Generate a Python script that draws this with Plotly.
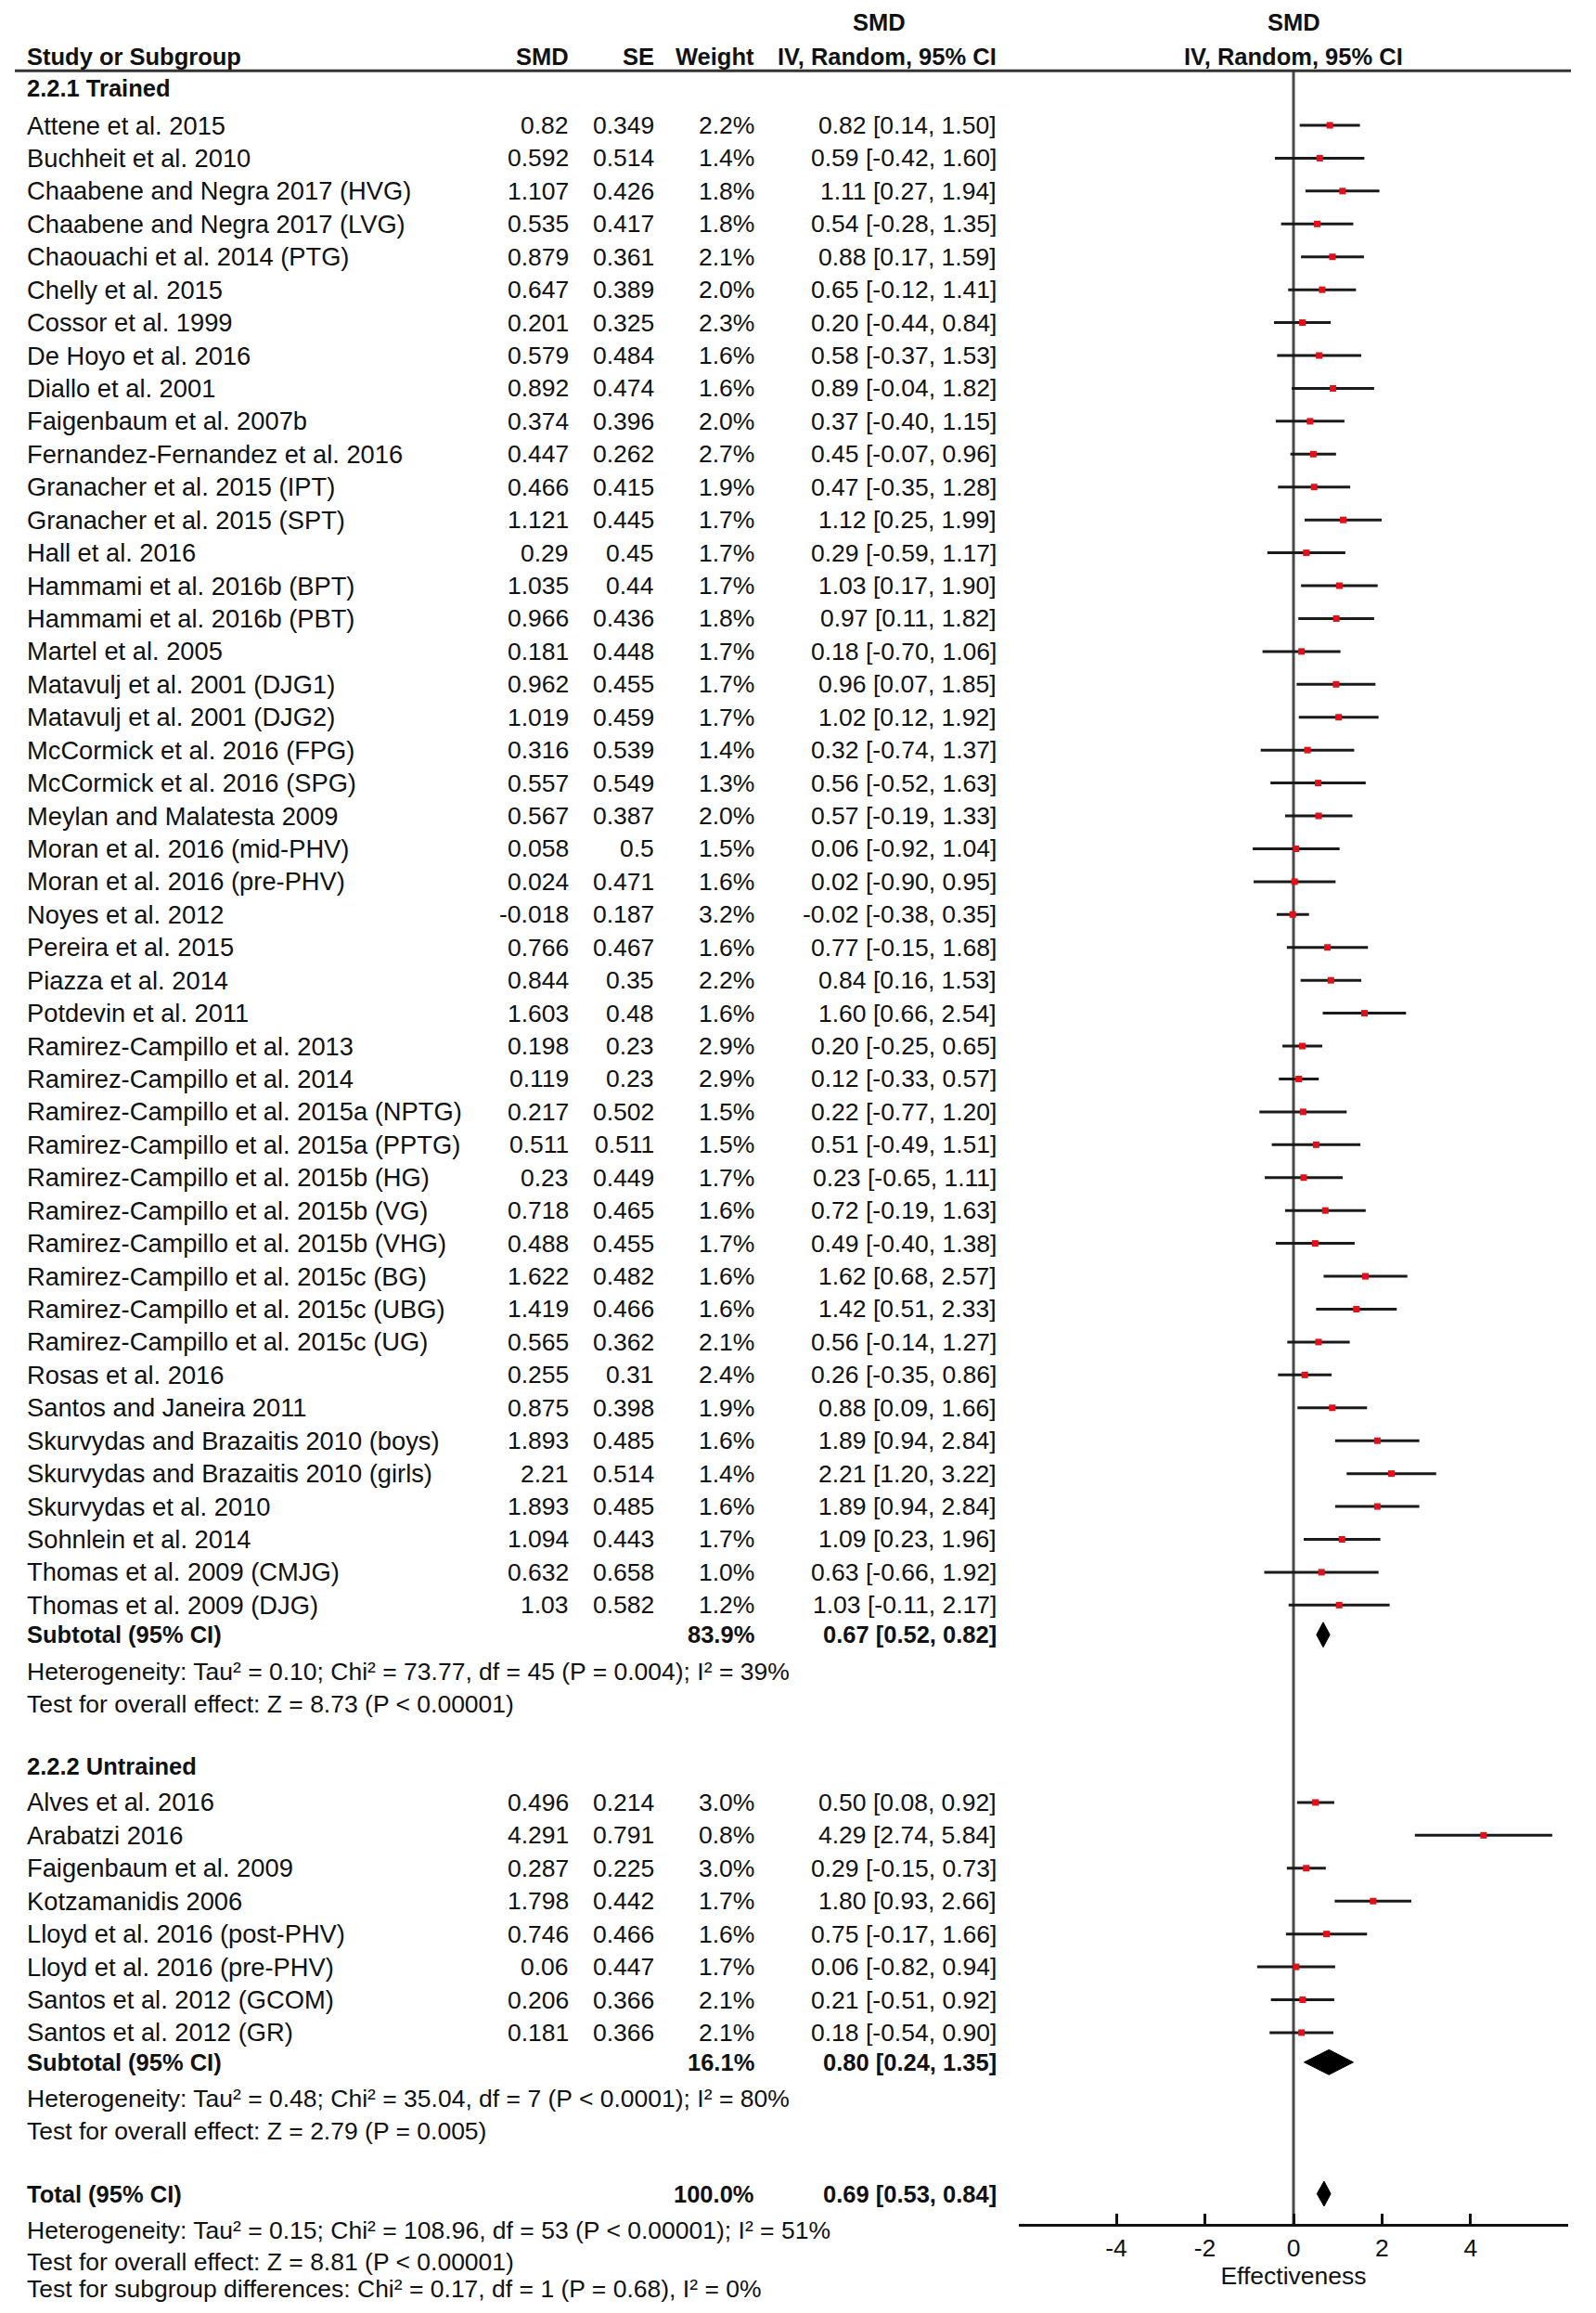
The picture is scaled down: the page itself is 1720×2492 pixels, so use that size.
import plotly.graph_objects as go

# page is 1720x2492; the HTML body keeps an 8px margin, so the figure is inset
PAGE_W, PAGE_H = 1720, 2492
INSET = 8
W, H = PAGE_W - 2 * INSET, PAGE_H - 2 * INSET

# ---------------- data ----------------
trained_study = [
    "Attene et al. 2015", "Buchheit et al. 2010", "Chaabene and Negra 2017 (HVG)",
    "Chaabene and Negra 2017 (LVG)", "Chaouachi et al. 2014 (PTG)", "Chelly et al. 2015",
    "Cossor et al. 1999", "De Hoyo et al. 2016", "Diallo et al. 2001", "Faigenbaum et al. 2007b",
    "Fernandez-Fernandez et al. 2016", "Granacher et al. 2015 (IPT)", "Granacher et al. 2015 (SPT)",
    "Hall et al. 2016", "Hammami et al. 2016b (BPT)", "Hammami et al. 2016b (PBT)",
    "Martel et al. 2005", "Matavulj et al. 2001 (DJG1)", "Matavulj et al. 2001 (DJG2)",
    "McCormick et al. 2016 (FPG)", "McCormick et al. 2016 (SPG)", "Meylan and Malatesta 2009",
    "Moran et al. 2016 (mid-PHV)", "Moran et al. 2016 (pre-PHV)", "Noyes et al. 2012",
    "Pereira et al. 2015", "Piazza et al. 2014", "Potdevin et al. 2011",
    "Ramirez-Campillo et al. 2013", "Ramirez-Campillo et al. 2014",
    "Ramirez-Campillo et al. 2015a (NPTG)", "Ramirez-Campillo et al. 2015a (PPTG)",
    "Ramirez-Campillo et al. 2015b (HG)", "Ramirez-Campillo et al. 2015b (VG)",
    "Ramirez-Campillo et al. 2015b (VHG)", "Ramirez-Campillo et al. 2015c (BG)",
    "Ramirez-Campillo et al. 2015c (UBG)", "Ramirez-Campillo et al. 2015c (UG)",
    "Rosas et al. 2016", "Santos and Janeira 2011", "Skurvydas and Brazaitis 2010 (boys)",
    "Skurvydas and Brazaitis 2010 (girls)", "Skurvydas et al. 2010", "Sohnlein et al. 2014",
    "Thomas et al. 2009 (CMJG)", "Thomas et al. 2009 (DJG)",
]
trained_smd = [0.82, 0.592, 1.107, 0.535, 0.879, 0.647, 0.201, 0.579, 0.892, 0.374,
               0.447, 0.466, 1.121, 0.29, 1.035, 0.966, 0.181, 0.962, 1.019, 0.316,
               0.557, 0.567, 0.058, 0.024, -0.018, 0.766, 0.844, 1.603, 0.198, 0.119,
               0.217, 0.511, 0.23, 0.718, 0.488, 1.622, 1.419, 0.565, 0.255, 0.875,
               1.893, 2.21, 1.893, 1.094, 0.632, 1.03]
trained_se = [0.349, 0.514, 0.426, 0.417, 0.361, 0.389, 0.325, 0.484, 0.474, 0.396,
              0.262, 0.415, 0.445, 0.45, 0.44, 0.436, 0.448, 0.455, 0.459, 0.539,
              0.549, 0.387, 0.5, 0.471, 0.187, 0.467, 0.35, 0.48, 0.23, 0.23,
              0.502, 0.511, 0.449, 0.465, 0.455, 0.482, 0.466, 0.362, 0.31, 0.398,
              0.485, 0.514, 0.485, 0.443, 0.658, 0.582]
trained_weight = [2.2, 1.4, 1.8, 1.8, 2.1, 2.0, 2.3, 1.6, 1.6, 2.0,
                  2.7, 1.9, 1.7, 1.7, 1.7, 1.8, 1.7, 1.7, 1.7, 1.4,
                  1.3, 2.0, 1.5, 1.6, 3.2, 1.6, 2.2, 1.6, 2.9, 2.9,
                  1.5, 1.5, 1.7, 1.6, 1.7, 1.6, 1.6, 2.1, 2.4, 1.9,
                  1.6, 1.4, 1.6, 1.7, 1.0, 1.2]
trained_lo = [0.14, -0.42, 0.27, -0.28, 0.17, -0.12, -0.44, -0.37, -0.04, -0.40,
              -0.07, -0.35, 0.25, -0.59, 0.17, 0.11, -0.70, 0.07, 0.12, -0.74,
              -0.52, -0.19, -0.92, -0.90, -0.38, -0.15, 0.16, 0.66, -0.25, -0.33,
              -0.77, -0.49, -0.65, -0.19, -0.40, 0.68, 0.51, -0.14, -0.35, 0.09,
              0.94, 1.20, 0.94, 0.23, -0.66, -0.11]
trained_hi = [1.50, 1.60, 1.94, 1.35, 1.59, 1.41, 0.84, 1.53, 1.82, 1.15,
              0.96, 1.28, 1.99, 1.17, 1.90, 1.82, 1.06, 1.85, 1.92, 1.37,
              1.63, 1.33, 1.04, 0.95, 0.35, 1.68, 1.53, 2.54, 0.65, 0.57,
              1.20, 1.51, 1.11, 1.63, 1.38, 2.57, 2.33, 1.27, 0.86, 1.66,
              2.84, 3.22, 2.84, 1.96, 1.92, 2.17]

untrained_study = [
    "Alves et al. 2016", "Arabatzi 2016", "Faigenbaum et al. 2009", "Kotzamanidis 2006",
    "Lloyd et al. 2016 (post-PHV)", "Lloyd et al. 2016 (pre-PHV)",
    "Santos et al. 2012 (GCOM)", "Santos et al. 2012 (GR)",
]
untrained_smd = [0.496, 4.291, 0.287, 1.798, 0.746, 0.06, 0.206, 0.181]
untrained_se = [0.214, 0.791, 0.225, 0.442, 0.466, 0.447, 0.366, 0.366]
untrained_weight = [3.0, 0.8, 3.0, 1.7, 1.6, 1.7, 2.1, 2.1]
untrained_lo = [0.08, 2.74, -0.15, 0.93, -0.17, -0.82, -0.51, -0.54]
untrained_hi = [0.92, 5.84, 0.73, 2.66, 1.66, 0.94, 0.92, 0.90]

subgroup_label = ["2.2.1 Trained", "2.2.2 Untrained"]
subtotal_weight = [83.9, 16.1]
subtotal_est = [0.67, 0.80]
subtotal_lo = [0.52, 0.24]
subtotal_hi = [0.82, 1.35]
sub_tau2 = ["0.10", "0.48"]
sub_chi2 = ["73.77", "35.04"]
sub_df = [45, 7]
sub_p_het = ["= 0.004", "&lt; 0.0001"]
sub_i2 = [39, 80]
sub_z = ["8.73", "2.79"]
sub_p_z = ["&lt; 0.00001", "= 0.005"]

total_weight = 100.0
total_est, total_lo, total_hi = 0.69, 0.53, 0.84
total_tau2, total_chi2, total_df, total_p_het, total_i2 = "0.15", "108.96", 53, "&lt; 0.00001", 51
total_z, total_p_z = "8.81", "&lt; 0.00001"
diff_chi2, diff_df, diff_p, diff_i2 = "0.17", 1, "= 0.68", 0

x_ticks = [-4, -2, 0, 2, 4]
x_range = [-6.2, 6.2]
x_title = "Effectiveness"

# ---------------- layout helpers (page pixel coordinates) ----------------
ROW0 = 135.0      # page y of first study row
ROWH = 35.43      # row pitch
FONT = "Liberation Sans, Arial, sans-serif"
FS = 26.5
FS_NAME = 27.3
FSB = 25.5
TXT = "#111111"

X_NAME = 27
X_SMD = 615
X_SE = 707
X_WT = 815
X_CI = 1076
X_CI_C = 947
X_FOREST_C = 1394
FOREST_L, FOREST_R = 1098, 1690
LINE_L, LINE_R = 16, 1693

sl_head1, sl_head2, sl_line = -3.14, -2.1, -1.66
g1_head = -1.12
g1_rows = list(range(len(trained_study)))
g1_sub = 45.9
g1_het, g1_test = 47.02, 48.0
g2_head = 49.9
g2_rows = [51 + i for i in range(len(untrained_study))]
g2_sub = 58.9
g2_het, g2_test = 60.0, 61.0
tot_row = 62.9
tot_het, tot_test, tot_diff = 64.0, 64.97, 65.8
axis_px = 2397


def px(x):
    return (x - INSET) / W


ann = []


def txt(xp, slot, s, anchor="left", bold=False, size=None):
    ann.append(dict(
        x=px(xp), xref="paper", y=slot, yref="y",
        text=("<b>%s</b>" % s) if bold else s,
        showarrow=False, xanchor=anchor, yanchor="middle",
        font=dict(family=FONT, size=size or (FSB if bold else FS), color=TXT),
    ))


def ci_text(e, lo, hi):
    return "%.2f [%.2f, %.2f]" % (e, lo, hi)


txt(X_CI_C, sl_head1, "SMD", "center", True)
txt(X_FOREST_C, sl_head1, "SMD", "center", True)
txt(X_NAME, sl_head2, "Study or Subgroup", "left", True)
txt(X_SMD, sl_head2, "SMD", "right", True)
txt(X_SE, sl_head2, "SE", "right", True)
txt(X_WT, sl_head2, "Weight", "right", True)
txt(X_CI, sl_head2, "IV, Random, 95% CI", "right", True)
txt(X_FOREST_C, sl_head2, "IV, Random, 95% CI", "center", True)

groups = [
    (trained_study, trained_smd, trained_se, trained_weight, trained_lo, trained_hi,
     g1_head, g1_rows, g1_sub, g1_het, g1_test),
    (untrained_study, untrained_smd, untrained_se, untrained_weight, untrained_lo, untrained_hi,
     g2_head, g2_rows, g2_sub, g2_het, g2_test),
]

seg_x, seg_y, pt_x, pt_y = [], [], [], []
diamonds = []
for gi, (names, smd, se, wt, lo, hi, hrow, rows, srow, hetrow, testrow) in enumerate(groups):
    txt(X_NAME, hrow, subgroup_label[gi], "left", True)
    for n, m, s, w, l, h, r in zip(names, smd, se, wt, lo, hi, rows):
        txt(X_NAME, r, n, size=FS_NAME)
        txt(X_SMD, r, str(m), "right")
        txt(X_SE, r, str(s), "right")
        txt(X_WT, r, "%.1f%%" % w, "right")
        txt(X_CI, r, ci_text(m, l, h), "right")
        seg_x += [l, h, None]
        seg_y += [r, r, None]
        pt_x.append(m)
        pt_y.append(r)
    txt(X_NAME, srow, "Subtotal (95% CI)", "left", True)
    txt(X_WT, srow, "%.1f%%" % subtotal_weight[gi], "right", True)
    txt(X_CI, srow, ci_text(subtotal_est[gi], subtotal_lo[gi], subtotal_hi[gi]), "right", True)
    txt(X_NAME, hetrow, "Heterogeneity: Tau² = %s; Chi² = %s, df = %d (P %s); I² = %d%%"
        % (sub_tau2[gi], sub_chi2[gi], sub_df[gi], sub_p_het[gi], sub_i2[gi]))
    txt(X_NAME, testrow, "Test for overall effect: Z = %s (P %s)" % (sub_z[gi], sub_p_z[gi]))
    diamonds.append((subtotal_est[gi], subtotal_lo[gi], subtotal_hi[gi], srow))

txt(X_NAME, tot_row, "Total (95% CI)", "left", True)
txt(X_WT, tot_row, "%.1f%%" % total_weight, "right", True)
txt(X_CI, tot_row, ci_text(total_est, total_lo, total_hi), "right", True)
txt(X_NAME, tot_het, "Heterogeneity: Tau² = %s; Chi² = %s, df = %d (P %s); I² = %d%%"
    % (total_tau2, total_chi2, total_df, total_p_het, total_i2))
txt(X_NAME, tot_test, "Test for overall effect: Z = %s (P %s)" % (total_z, total_p_z))
txt(X_NAME, tot_diff, "Test for subgroup differences: Chi² = %s, df = %d (P %s), I² = %d%%"
    % (diff_chi2, diff_df, diff_p, diff_i2))
diamonds.append((total_est, total_lo, total_hi, tot_row))

# ---------------- figure ----------------
fig = go.Figure()

axis_slot = (axis_px - ROW0) / ROWH
fig.add_trace(go.Scatter(x=[0, 0], y=[sl_line, axis_slot], mode="lines",
                         line=dict(color="#4a4a4a", width=3), hoverinfo="skip"))
fig.add_trace(go.Scatter(x=seg_x, y=seg_y, mode="lines",
                         line=dict(color="#1a1a1a", width=3), hoverinfo="skip"))
fig.add_trace(go.Scatter(x=pt_x, y=pt_y, mode="markers",
                         marker=dict(symbol="square", size=7, color="#e3101a", line=dict(width=0)),
                         hoverinfo="skip"))
DH = 0.38
for e, l, h, r in diamonds:
    fig.add_trace(go.Scatter(x=[l, e, h, e, l], y=[r, r - DH, r, r + DH, r], mode="lines",
                             fill="toself", fillcolor="#000000",
                             line=dict(color="#000000", width=1), hoverinfo="skip"))

top_slot = (INSET - ROW0) / ROWH
bot_slot = (INSET + H - ROW0) / ROWH

fig.update_layout(
    width=W, height=H,
    margin=dict(l=0, r=0, t=0, b=0),
    paper_bgcolor="white", plot_bgcolor="white",
    showlegend=False,
    font=dict(family=FONT, size=FS, color=TXT),
    annotations=ann,
    shapes=[dict(type="line", xref="paper", yref="y", x0=px(LINE_L), x1=px(LINE_R),
                 y0=sl_line, y1=sl_line, line=dict(color="#333333", width=3))],
    xaxis=dict(
        domain=[px(FOREST_L), px(FOREST_R)], range=x_range,
        anchor="free", position=1 - (axis_px - INSET) / H,
        showline=True, linecolor="#111111", linewidth=3,
        ticks="inside", ticklen=11, tickwidth=3, tickcolor="#111111",
        tickvals=x_ticks, ticktext=[str(t) for t in x_ticks],
        tickfont=dict(family=FONT, size=FS, color=TXT),
        ticklabelstandoff=0,
        showgrid=False, zeroline=False,
        title=dict(text=x_title, font=dict(family=FONT, size=FS, color=TXT), standoff=2),
    ),
    yaxis=dict(domain=[0, 1], range=[bot_slot, top_slot], visible=False,
               showgrid=False, zeroline=False),
)

fig.write_html("out.html")
